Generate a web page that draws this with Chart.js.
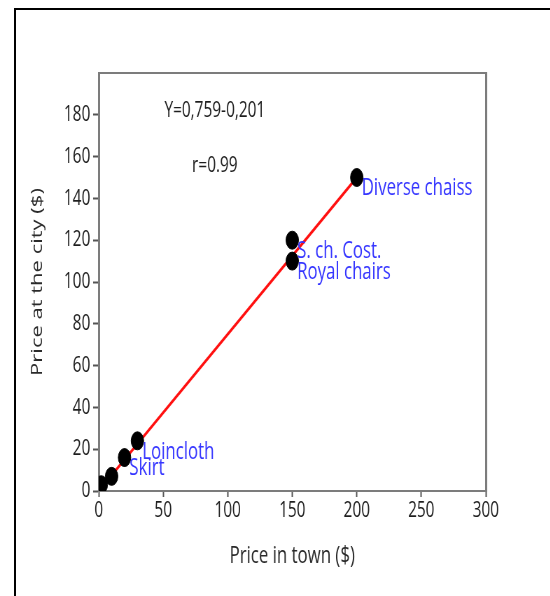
<!DOCTYPE html>
<html>
<head>
<meta charset="utf-8">
<script src="https://cdn.jsdelivr.net/npm/chart.js@4.4.1/dist/chart.umd.min.js"></script>
<style>
  html, body { margin: 0; padding: 0; background: #fff; }
  #page { position: absolute; left: 0; top: 0; width: 550px; height: 596px; overflow: hidden; background: #fff; }
  #frame { position: absolute; left: 14px; top: 8px; width: 560px; height: 600px; border-top: 2px solid #000; border-left: 2px solid #000; }
  #squeeze { position: absolute; left: 0; top: 0; width: 786px; height: 596px; transform: scaleX(0.7); transform-origin: 0 0; }
</style>
</head>
<body>
<div id="page">
  <div id="squeeze"><canvas id="c"></canvas></div>
  <div id="frame"></div>
</div>
<script>
// ---- data ----
const itemNames = ['', '', 'Skirt', 'Loincloth', 'S. ch. Cost.', 'Royal chairs', 'Diverse chaiss'];
const townPrice = [2, 10, 20, 30, 150, 150, 200];
const cityPrice = [3, 7, 16, 24, 120, 110, 150];
const fitX = [0, 200];
const fitY = [0, 150];
const xTicks = [0, 50, 100, 150, 200, 250, 300];
const yTicks = [0, 20, 40, 60, 80, 100, 120, 140, 160, 180];
const equationText = 'Y=0,759-0,201';
const corrText = 'r=0.99';
const xTitle = 'Price in town ($)';
const yTitle = 'Price at the city ($)';

Chart.defaults.font.family = "'Open Sans', sans-serif";
Chart.defaults.color = '#1e1e1e';

const points = townPrice.map((x, i) => ({ x: x, y: cityPrice[i] }));
const fitLine = fitX.map((x, i) => ({ x: x, y: fitY[i] }));

const labelPlugin = {
  id: 'labels',
  afterDatasetsDraw(chart) {
    const ctx = chart.ctx;
    const meta = chart.getDatasetMeta(1);
    ctx.save();
    ctx.font = "24px 'Open Sans', sans-serif";
    ctx.fillStyle = '#3535ff';
    ctx.textAlign = 'left';
    ctx.textBaseline = 'middle';
    meta.data.forEach((el, i) => {
      if (itemNames[i]) ctx.fillText(itemNames[i], el.x + 7, el.y + 11);
    });
    const xs = chart.scales.x, ys = chart.scales.y;
    ctx.fillStyle = '#1e1e1e';
    ctx.font = "22px 'Open Sans', sans-serif";
    ctx.textAlign = 'center';
    ctx.fillText(equationText, xs.getPixelForValue(90), ys.getPixelForValue(182));
    ctx.fillText(corrText, xs.getPixelForValue(90), ys.getPixelForValue(155.5));
    ctx.restore();
  }
};

new Chart(document.getElementById('c'), {
  type: 'scatter',
  data: {
    datasets: [
      {
        type: 'line',
        data: fitLine,
        borderColor: '#ff1010',
        borderWidth: 3,
        pointRadius: 0,
        fill: false,
        order: 2
      },
      {
        data: points,
        backgroundColor: '#000',
        borderColor: '#000',
        pointRadius: 9,
        pointHoverRadius: 9,
        order: 1
      }
    ]
  },
  options: {
    responsive: true,
    maintainAspectRatio: false,
    animation: false,
    events: [],
    layout: { padding: { left: 41, top: 73, right: 92, bottom: 25 } },
    plugins: { legend: { display: false }, tooltip: { enabled: false } },
    scales: {
      x: {
        type: 'linear',
        min: 0, max: 300,
        afterBuildTicks: s => { s.ticks = xTicks.map(v => ({ value: v })); },
        afterFit: s => { s.height = 80; },
        ticks: { font: { size: 22 }, padding: 1, maxRotation: 0, color: '#1e1e1e' },
        grid: { drawOnChartArea: false, drawTicks: true, tickLength: 6, tickColor: '#555', tickWidth: 2 },
        border: { display: true, color: '#7c7c7c', width: 2 },
        title: { display: true, text: xTitle, font: { size: 24 }, padding: 0, color: '#2a2a2a' }
      },
      y: {
        type: 'linear',
        min: 0, max: 200,
        afterBuildTicks: s => { s.ticks = yTicks.map(v => ({ value: v })); },
        afterFit: s => { s.width = 100; },
        ticks: { font: { size: 22 }, padding: 4, color: '#1e1e1e' },
        grid: { drawOnChartArea: false, drawTicks: true, tickLength: 8, tickColor: '#555', tickWidth: 2 },
        border: { display: true, color: '#7c7c7c', width: 3 },
        title: { display: true, text: yTitle, font: { size: 22 }, padding: 0, color: '#2a2a2a' }
      },
      x2: {
        type: 'linear', position: 'top', min: 0, max: 300,
        afterFit: s => { s.height = 0; },
        ticks: { display: false },
        grid: { display: false, drawTicks: false },
        border: { display: true, color: '#7c7c7c', width: 2 }
      },
      y2: {
        type: 'linear', position: 'right', min: 0, max: 200,
        afterFit: s => { s.width = 0; },
        ticks: { display: false },
        grid: { display: false, drawTicks: false },
        border: { display: true, color: '#7c7c7c', width: 3 }
      }
    }
  },
  plugins: [labelPlugin]
});
</script>
</body>
</html>
